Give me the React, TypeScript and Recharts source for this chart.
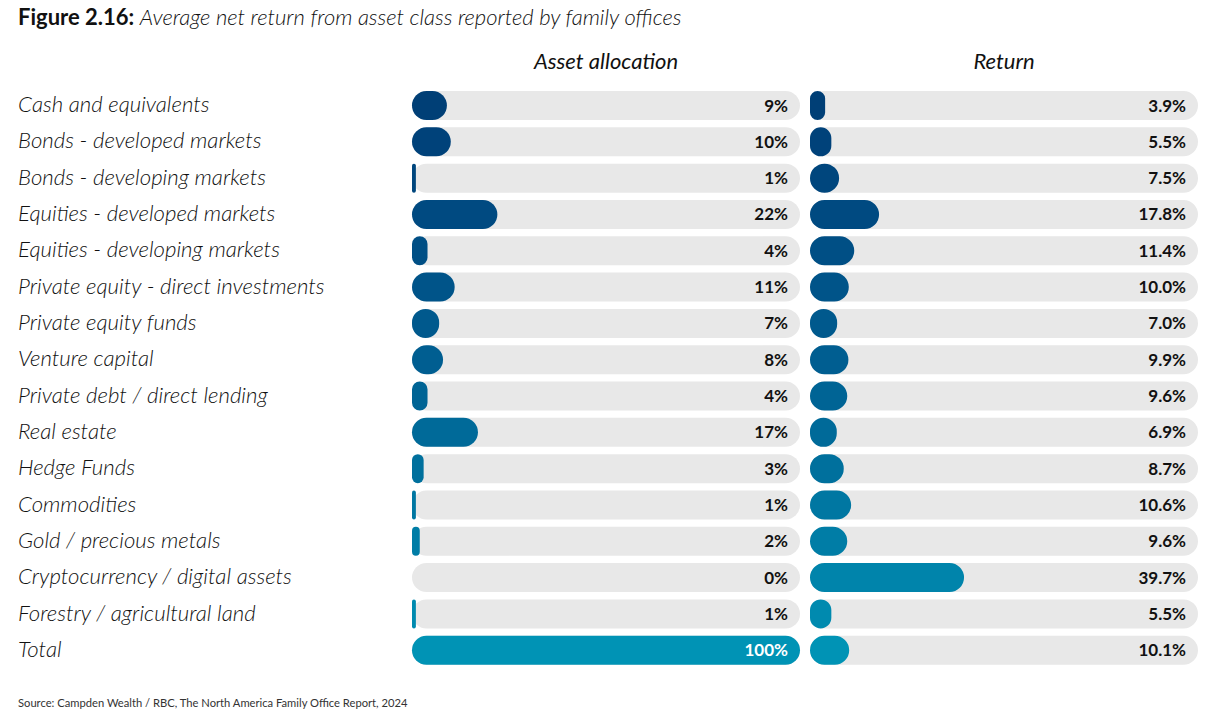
import React from "react";
import { BarChart, Bar, XAxis, YAxis, Cell, LabelList } from "recharts";

const categories = [
  "Cash and equivalents",
  "Bonds - developed markets",
  "Bonds - developing markets",
  "Equities - developed markets",
  "Equities - developing markets",
  "Private equity - direct investments",
  "Private equity funds",
  "Venture capital",
  "Private debt / direct lending",
  "Real estate",
  "Hedge Funds",
  "Commodities",
  "Gold / precious metals",
  "Cryptocurrency / digital assets",
  "Forestry / agricultural land",
  "Total",
];

const allocation = [9, 10, 1, 22, 4, 11, 7, 8, 4, 17, 3, 1, 2, 0, 1, 100];
const returns = [3.9, 5.5, 7.5, 17.8, 11.4, 10.0, 7.0, 9.9, 9.6, 6.9, 8.7, 10.6, 9.6, 39.7, 5.5, 10.1];

const rowColors = [
  "#003F76", "#00427A", "#00467D", "#004A81", "#004F85", "#005489", "#00598D", "#005E91",
  "#006495", "#006A99", "#00709D", "#0077A2", "#007DA6", "#0084AB", "#008AAF", "#0093B5",
];

const FONT = "Lato, 'Open Sans', sans-serif";
const TRACK = "#E8E8E8";
const FULL = 100;

const rows = categories.map((name, i) => ({
  name,
  allocation: allocation[i],
  returns: returns[i],
}));

function CategoryTick({ y, payload }: { y?: number; payload?: { value: string } }) {
  return (
    <text x={18} y={y} dy={7} fontFamily={FONT} fontStyle="italic" fontWeight={300} fontSize={22.2} fill="#111" textAnchor="start">
      {payload?.value}
    </text>
  );
}

function makeValueLabel(decimals: number) {
  return function ValueLabel(props: any) {
    const { x, y, width, height, value, index } = props;
    const right = x + width - 12;
    const onBar = Number(value) > 85;
    return (
      <text
        key={index}
        x={right}
        y={y + height / 2}
        dy={6}
        textAnchor="end"
        fontFamily={FONT}
        fontWeight={700}
        fontSize={17}
        fill={onBar ? "#ffffff" : "#111111"}
      >
        {`${Number(value).toFixed(decimals)}%`}
      </text>
    );
  };
}

function Panel({ dataKey, decimals }: { dataKey: "allocation" | "returns"; decimals: number }) {
  return [
    <Bar key="track" dataKey={() => FULL} barSize={29} radius={14.5} fill={TRACK} isAnimationActive={false} />,
    <Bar key="value" dataKey={dataKey} barSize={29} radius={14.5} isAnimationActive={false}>
      {rows.map((r, i) => (
        <Cell key={r.name} fill={rowColors[i]} />
      ))}
    </Bar>,
    <Bar key="label" dataKey={() => FULL} barSize={29} fill="transparent" isAnimationActive={false}>
      <LabelList dataKey={dataKey} content={makeValueLabel(decimals)} />
    </Bar>,
  ];
}

export default function App() {
  const headStyle: React.CSSProperties = {
    position: "absolute",
    width: 388,
    top: 47,
    textAlign: "center",
    fontSize: 22,
    fontStyle: "italic",
    fontWeight: 400,
    color: "#111",
  };
  return (
    <div style={{ position: "absolute", left: 0, top: 0, width: 1214, height: 723, background: "#fff", fontFamily: FONT }}>
      <div style={{ position: "absolute", left: 18, top: 3, fontSize: 22, color: "#111", whiteSpace: "nowrap" }}>
        <span style={{ fontWeight: 700 }}>Figure 2.16:</span>{" "}
        <span style={{ fontStyle: "italic", fontWeight: 300 }}>Average net return from asset class reported by family offices</span>
      </div>
      <div style={{ ...headStyle, left: 412 }}>Asset allocation</div>
      <div style={{ ...headStyle, left: 810 }}>Return</div>

      <div style={{ position: "absolute", left: 0, top: 0 }}>
        <BarChart width={806} height={723} data={rows} layout="vertical" barGap={-29} margin={{ top: 87, right: 6, bottom: 55, left: 0 }}>
          <XAxis type="number" domain={[0, 100]} hide />
          <YAxis type="category" dataKey="name" width={412} axisLine={false} tickLine={false} tick={<CategoryTick />} interval={0} />
          {Panel({ dataKey: "allocation", decimals: 0 })}
        </BarChart>
      </div>

      <div style={{ position: "absolute", left: 804, top: 0 }}>
        <BarChart width={400} height={723} data={rows} layout="vertical" barGap={-29} margin={{ top: 87, right: 6, bottom: 55, left: 6 }}>
          <XAxis type="number" domain={[0, 100]} hide />
          <YAxis type="category" dataKey="name" hide />
          {Panel({ dataKey: "returns", decimals: 1 })}
        </BarChart>
      </div>

      <div style={{ position: "absolute", left: 18, top: 696, fontSize: 11.2, color: "#333", whiteSpace: "nowrap" }}>
        Source: Campden Wealth / RBC, The North America Family Office Report, 2024
      </div>
    </div>
  );
}
